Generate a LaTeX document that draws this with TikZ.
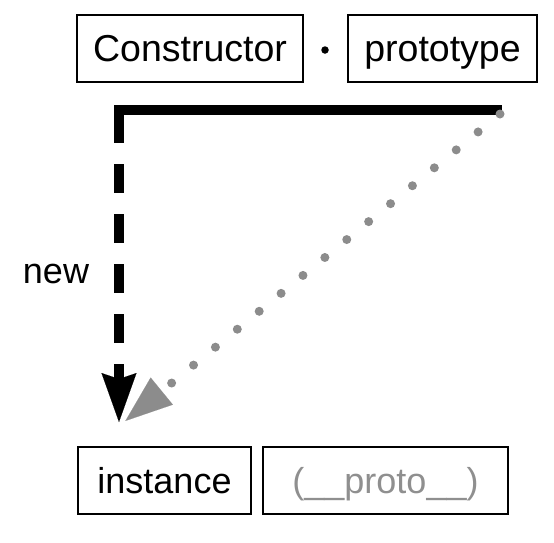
\documentclass[tikz,border=0pt]{standalone}
\usepackage{fontspec}
\setmainfont{Liberation Sans}
\usetikzlibrary{arrows.meta}

\definecolor{screen}{rgb}{0.55,0.55,0.55}
\definecolor{screentext}{rgb}{0.56,0.56,0.56}

\tikzset{
  labelbox/.style={draw=black, line width=2.4pt, inner sep=0pt,
    minimum height=67pt, text height=26pt, text depth=0pt},
  toprow/.style={labelbox, font=\fontsize{37.5}{40}\selectfont},
  bottomrow/.style={labelbox, font=\fontsize{36}{40}\selectfont},
  joiner/.style={circle, fill=black, inner sep=0pt, minimum size=7.5pt},
  newlink/.style={line width=10pt, line join=miter, line cap=butt,
    dash pattern=on 416pt off 21pt on 29pt off 21pt on 29pt off 21pt
      on 29pt off 21pt on 29pt off 21pt on 200pt,
    -{Stealth[length=49pt, width=35pt, inset=6pt, line width=0.1pt]}},
  protolink/.style={draw=screen, line width=9pt, line cap=round,
    dash pattern=on 0pt off 28.3pt,
    -{Triangle[length=47pt, width=35pt, line width=0.1pt, fill=screen, color=screen]}},
}

\begin{document}
\begin{tikzpicture}[x=1pt, y=-1pt]
  \useasboundingbox (0,0) rectangle (554,542);

  % Constructor . prototype
  \node[toprow, minimum width=226pt] (ctor) at (190,48.5) {Constructor};
  \node[joiner] (dot) at (325,50) {};
  \node[toprow, minimum width=189pt] (proto) at (442.5,48.5) {prototype};

  % instance and its hidden link
  \node[bottomrow, minimum width=173pt] (inst) at (164.5,480.5) {instance};
  \node[bottomrow, minimum width=245pt, text=screentext] (ilink) at (385.5,480.5) {(\_\_proto\_\_)};

  % label of the construction step
  \node[font=\fontsize{36}{40}\selectfont, anchor=base, inner sep=0pt] (newlabel) at (56,283) {new};

  % connector end points
  \coordinate (lend) at (502,110);
  \coordinate (corner) at (119,110);
  \coordinate (itip) at (119,422);
  \coordinate (dstart) at (500,114);
  \coordinate (ptip) at (125.4,420.9);

  % new: Constructor -> instance
  \draw[newlink] (lend) -- (corner) -- (itip);

  % prototype chain: instance.__proto__ -> Constructor.prototype
  \draw[protolink] (dstart) -- (ptip);
\end{tikzpicture}
\end{document}
